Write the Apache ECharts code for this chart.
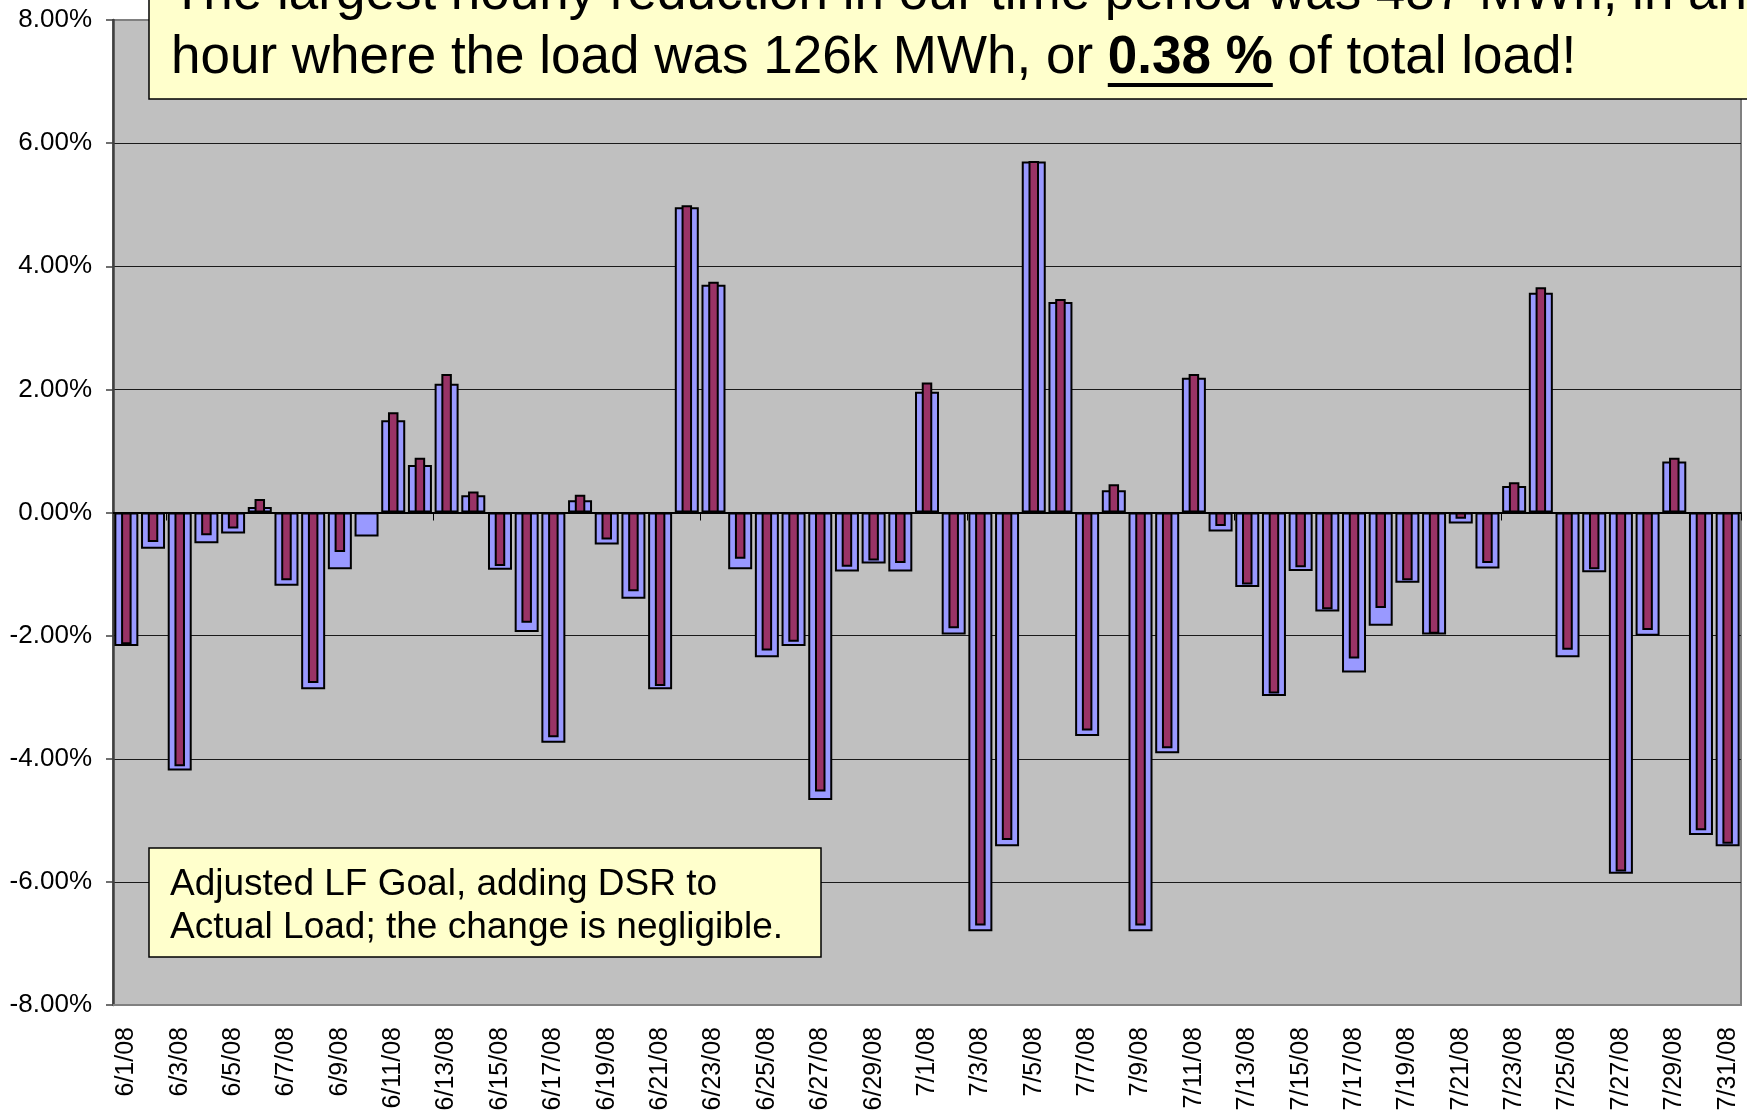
<!DOCTYPE html>
<html>
<head>
<meta charset="utf-8">
<script src="https://cdn.jsdelivr.net/npm/echarts@6/dist/echarts.min.js"></script>
<style>
  html, body { margin: 0; padding: 0; background: #fff; }
  #chart { width: 1747px; height: 1114px; }
</style>
</head>
<body>
<div id="chart"></div>
<script>
// daily percentage change, June-July 2008
const days = [
    '6/1/08', '6/2/08', '6/3/08', '6/4/08', '6/5/08', '6/6/08', '6/7/08', '6/8/08', '6/9/08', '6/10/08',
    '6/11/08', '6/12/08', '6/13/08', '6/14/08', '6/15/08', '6/16/08', '6/17/08', '6/18/08', '6/19/08', '6/20/08',
    '6/21/08', '6/22/08', '6/23/08', '6/24/08', '6/25/08', '6/26/08', '6/27/08', '6/28/08', '6/29/08', '6/30/08',
    '7/1/08', '7/2/08', '7/3/08', '7/4/08', '7/5/08', '7/6/08', '7/7/08', '7/8/08', '7/9/08', '7/10/08',
    '7/11/08', '7/12/08', '7/13/08', '7/14/08', '7/15/08', '7/16/08', '7/17/08', '7/18/08', '7/19/08', '7/20/08',
    '7/21/08', '7/22/08', '7/23/08', '7/24/08', '7/25/08', '7/26/08', '7/27/08', '7/28/08', '7/29/08', '7/30/08',
    '7/31/08',
]

// wide bars: LF goal vs actual load (%)
const lfGoal = [
    -2.17, -0.59, -4.19, -0.50, -0.34, 0.09, -1.19, -2.87, -0.92, -0.39,
    1.50, 0.77, 2.09, 0.28, -0.93, -1.94, -3.74, 0.20, -0.52, -1.40,
    -2.87, 4.96, 3.70, -0.92, -2.35, -2.17, -4.67, -0.96, -0.83, -0.96,
    1.96, -1.98, -6.80, -5.42, 5.70, 3.42, -3.63, 0.36, -6.80, -3.91,
    2.19, -0.31, -1.21, -2.98, -0.95, -1.61, -2.60, -1.84, -1.14, -1.98,
    -0.18, -0.91, 0.43, 3.57, -2.35, -0.97, -5.87, -2.00, 0.83, -5.24,
    -5.42,
]

// narrow bars: adjusted LF goal, DSR added to actual load (%)
const adjustedLfGoal = [
    -2.14, -0.48, -4.12, -0.37, -0.26, 0.22, -1.10, -2.77, -0.64, -0.02,
    1.63, 0.89, 2.25, 0.34, -0.87, -1.79, -3.65, 0.29, -0.44, -1.28,
    -2.82, 4.99, 3.75, -0.75, -2.24, -2.10, -4.53, -0.88, -0.78, -0.82,
    2.11, -1.88, -6.71, -5.32, 5.71, 3.47, -3.54, 0.46, -6.71, -3.83,
    2.25, -0.22, -1.17, -2.94, -0.89, -1.57, -2.37, -1.55, -1.10, -1.97,
    -0.10, -0.82, 0.49, 3.66, -2.23, -0.92, -5.83, -1.91, 0.89, -5.16,
    -5.38,
]

const yTicks = { min: -8, max: 8, step: 2 }

const FONT = '"Liberation Sans", Arial, sans-serif'
const HEAD_SIZE = 53
const headLine1 = 'The largest hourly reduction in our time period was 487 MWh, in an'
const headPre = 'hour where the load was 126k MWh, or '
const headBold = '0.38 %'
const headPost = ' of total load!'

// measure where the underlined part sits
const measure = document.createElement('canvas').getContext('2d')
measure.font = HEAD_SIZE + 'px ' + FONT
const preW = measure.measureText(headPre).width
measure.font = 'bold ' + HEAD_SIZE + 'px ' + FONT
const boldW = measure.measureText(headBold).width
const headX = 171

const chart = echarts.init(document.getElementById('chart'))
const option = {
    animation: false,
    backgroundColor: '#ffffff',
    textStyle: { fontFamily: FONT },
    grid: {
        left: 113,
        right: 6,
        top: 20,
        bottom: 109,
        show: true,
        backgroundColor: '#C0C0C0',
        borderColor: '#808080',
        borderWidth: 2,
    },
    xAxis: [
        {
            type: 'category',
            data: days,
            position: 'bottom',
            axisLine: { onZero: false, lineStyle: { color: '#808080', width: 2 } },
            axisTick: { show: false },
            axisLabel: {
                interval: 1,
                rotate: 90,
                margin: 22,
                fontSize: 25,
                color: '#000',
                fontFamily: FONT,
            },
            splitLine: { show: false },
        },
        {
            type: 'category',
            data: days,
            position: 'bottom',
            axisLine: { onZero: true, onZeroAxisIndex: 0, lineStyle: { color: '#000', width: 2 } },
            axisTick: {
                show: true,
                length: 8,
                interval: (i) => i % 10 === 2,
                lineStyle: { color: '#000', width: 1 },
            },
            axisLabel: { show: false },
            splitLine: { show: false },
        },
    ],
    yAxis: {
        type: 'value',
        min: yTicks.min,
        max: yTicks.max,
        interval: yTicks.step,
        axisLine: { show: true, lineStyle: { color: '#404040', width: 2.5 } },
        axisTick: { show: true, length: 7, lineStyle: { color: '#404040', width: 1.5 } },
        axisLabel: {
            formatter: (v) => v.toFixed(2) + '%',
            fontSize: 26,
            color: '#000',
            margin: 21,
            fontFamily: FONT,
        },
        splitLine: {
            show: true,
            showMinLine: false,
            showMaxLine: false,
            lineStyle: { color: '#1a1a1a', width: 1 },
        },
    },
    series: [
        {
            name: 'LF Goal',
            type: 'bar',
            xAxisIndex: 0,
            data: lfGoal,
            barWidth: 24,
            itemStyle: { color: '#9999FF', borderColor: '#000', borderWidth: 2 },
        },
        {
            name: 'Adjusted LF Goal',
            type: 'bar',
            xAxisIndex: 1,
            data: adjustedLfGoal,
            barWidth: 10.5,
            itemStyle: { color: '#993366', borderColor: '#000', borderWidth: 2 },
        },
    ],
    graphic: [
        {
            type: 'rect',
            z: 100,
            shape: { x: 149, y: -10, width: 1650, height: 109 },
            style: { fill: '#FFFFCC', stroke: '#000', lineWidth: 1.5 },
        },
        {
            type: 'text',
            z: 101,
            x: headX,
            y: -38,
            style: {
                text: headLine1 + '\n{n|' + headPre + '}{b|' + headBold + '}{n|' + headPost + '}',
                font: HEAD_SIZE + 'px ' + FONT,
                fill: '#000',
                lineHeight: 64,
                verticalAlign: 'top',
                rich: {
                    n: { fontSize: HEAD_SIZE, fontFamily: FONT, lineHeight: 64, fill: '#000' },
                    b: { fontSize: HEAD_SIZE, fontFamily: FONT, fontWeight: 'bold', lineHeight: 64, fill: '#000' },
                },
            },
        },
        {
            type: 'line',
            z: 101,
            shape: { x1: headX + preW, y1: 85, x2: headX + preW + boldW, y2: 85 },
            style: { stroke: '#000', lineWidth: 4 },
        },
        {
            type: 'rect',
            z: 100,
            shape: { x: 149, y: 848, width: 672, height: 109 },
            style: { fill: '#FFFFCC', stroke: '#000', lineWidth: 1.5 },
        },
        {
            type: 'text',
            z: 101,
            x: 170,
            y: 863,
            style: {
                text: 'Adjusted LF Goal, adding DSR to\nActual Load; the change is negligible.',
                font: '37px ' + FONT,
                fill: '#000',
                lineHeight: 43.3,
                verticalAlign: 'top',
            },
        },
    ],
}
chart.setOption(option)
window.addEventListener('resize', () => chart.resize())
</script>
</body>
</html>
